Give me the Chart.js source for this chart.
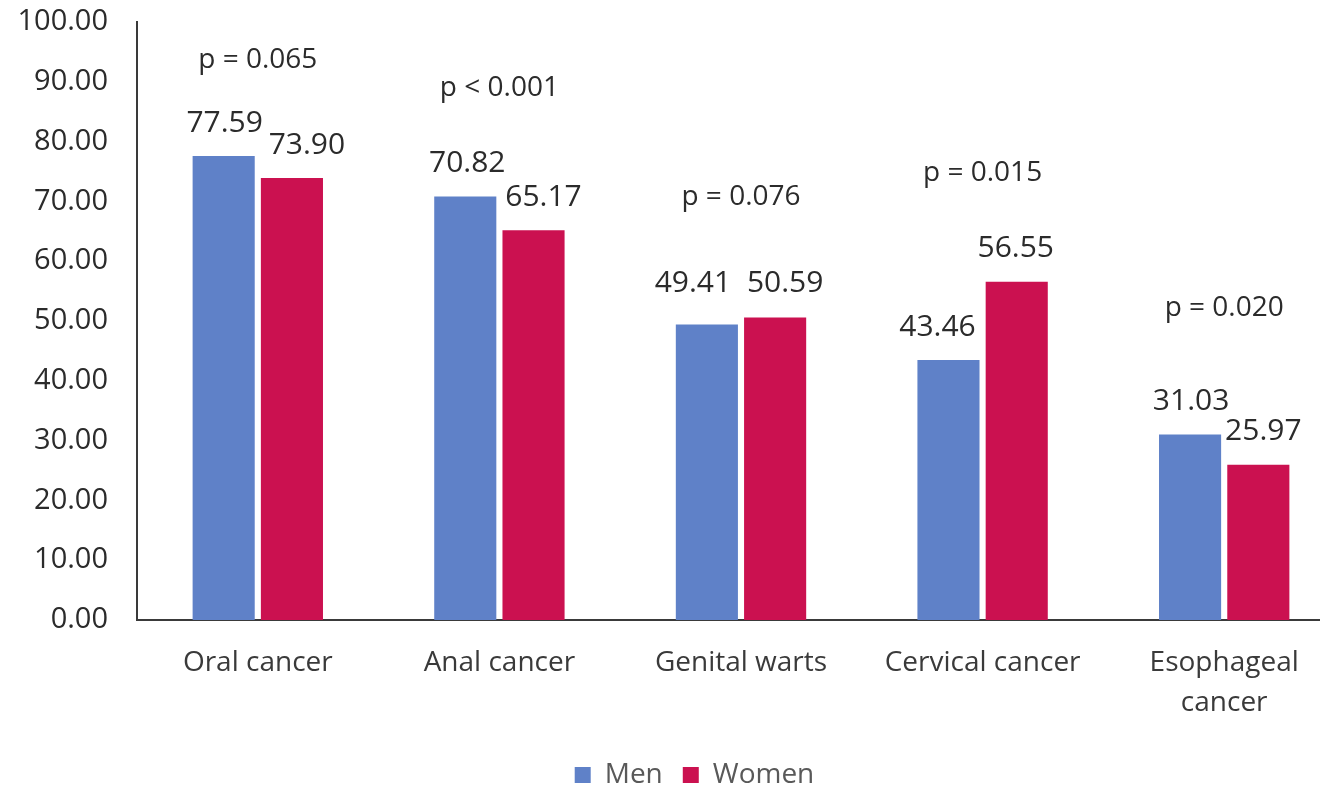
<!DOCTYPE html>
<html>
<head>
<meta charset="utf-8">
<script src="https://cdn.jsdelivr.net/npm/chart.js@4/dist/chart.umd.min.js"></script>
<style>
  html, body { margin: 0; padding: 0; background: #fff; overflow: hidden; }
  #wrap { width: 1345px; height: 787px; }
</style>
</head>
<body>
<div id="wrap"><canvas id="chart" width="1345" height="787"></canvas></div>
<script>
// data
var categories   = [['Oral cancer'], ['Anal cancer'], ['Genital warts'], ['Cervical cancer'], ['Esophageal', 'cancer']];
var menValues    = [77.59, 70.82, 49.41, 43.46, 31.03];
var womenValues  = [73.90, 65.17, 50.59, 56.55, 25.97];
var pLabels      = ['p = 0.065', 'p < 0.001', 'p = 0.076', 'p = 0.015', 'p = 0.020'];
var pLevels      = [93.6, 89.0, 70.7, 74.7, 52.2];   // height (in % units) where each p-value sits
var yTicks       = [0, 10, 20, 30, 40, 50, 60, 70, 80, 90, 100];

// small nudges so value labels don't collide (like the original)
var labelNudge = [
    [[1, 0], [2, 0], [-14, -8], [-11, 0], [1, 0]],
    [[15, 0], [10, 0], [10, -1], [-1, 0], [5, 0]]
];

var FONT = "'Open Sans', sans-serif";
var TEXT = '#2b2b2b';
var MEN_COLOR   = '#5f81c8';
var WOMEN_COLOR = '#cb1150';

var valueLabels = {
    id: 'valueLabels',
    afterDatasetsDraw: function(chart) {
        var ctx = chart.ctx;
        ctx.save();
        ctx.font = '30px ' + FONT;
        ctx.fillStyle = TEXT;
        ctx.textAlign = 'center';
        ctx.textBaseline = 'middle';
        chart.data.datasets.forEach(function(ds, d) {
            var meta = chart.getDatasetMeta(d);
            meta.data.forEach(function(bar, i) {
                var n = labelNudge[d][i];
                ctx.fillText(ds.data[i].toFixed(2), bar.x + n[0], bar.y - 33 + n[1]);
            });
        });

        // p-values over each group
        var xs = chart.scales.x, ys = chart.scales.y;
        ctx.font = '28px ' + FONT;
        pLabels.forEach(function(txt, i) {
            ctx.fillText(txt, xs.getPixelForValue(i), ys.getPixelForValue(pLevels[i]));
        });
        ctx.restore();
    }
};

// legend sits a bit right of centre and close to the bottom edge
var legendShift = {
    id: 'legendShift',
    afterLayout: function(chart) {
        var lg = chart.legend;
        lg.left += 22; lg.right += 22;
        lg.top += 18; lg.bottom += 18;
    }
};

new Chart(document.getElementById('chart'), {
    type: 'bar',
    data: {
        labels: categories,
        datasets: [
            { label: 'Men',   data: menValues,   backgroundColor: MEN_COLOR },
            { label: 'Women', data: womenValues, backgroundColor: WOMEN_COLOR }
        ]
    },
    options: {
        responsive: false,
        animation: false,
        layout: { padding: { left: 0, top: 22, right: 0, bottom: 6 } },
        datasets: {
            bar: { categoryPercentage: 0.565, barPercentage: 0.91 }
        },
        plugins: {
            tooltip: { enabled: false },
            legend: {
                position: 'bottom',
                labels: {
                    boxWidth: 16,
                    boxHeight: 16,
                    padding: 20,
                    color: '#595959',
                    font: { family: FONT, size: 28 }
                }
            }
        },
        scales: {
            x: {
                grid: { display: false },
                border: { display: true, color: '#3a3a3a', width: 2 },
                ticks: {
                    color: '#3a3a3a',
                    padding: 15,
                    maxRotation: 0,
                    autoSkip: false,
                    font: { family: FONT, size: 28, lineHeight: 1.43 }
                },
                afterFit: function(scale) {
                    var lg = scale.chart.legend ? scale.chart.legend.height : 0;
                    scale.height = 787 - 620 - lg - 6;
                }
            },
            y: {
                min: 0,
                max: 100,
                grid: { display: false },
                border: { display: true, color: '#3a3a3a', width: 2 },
                afterBuildTicks: function(scale) {
                    scale.ticks = yTicks.map(function(v) { return { value: v }; });
                },
                ticks: {
                    color: TEXT,
                    padding: 21,
                    font: { family: FONT, size: 29 },
                    callback: function(v) { return Number(v).toFixed(2); }
                },
                afterFit: function(scale) {
                    scale.width = 137;
                    scale.paddingTop = 0;
                    scale.paddingBottom = 0;
                }
            }
        }
    },
    plugins: [valueLabels, legendShift]
});
</script>
</body>
</html>
